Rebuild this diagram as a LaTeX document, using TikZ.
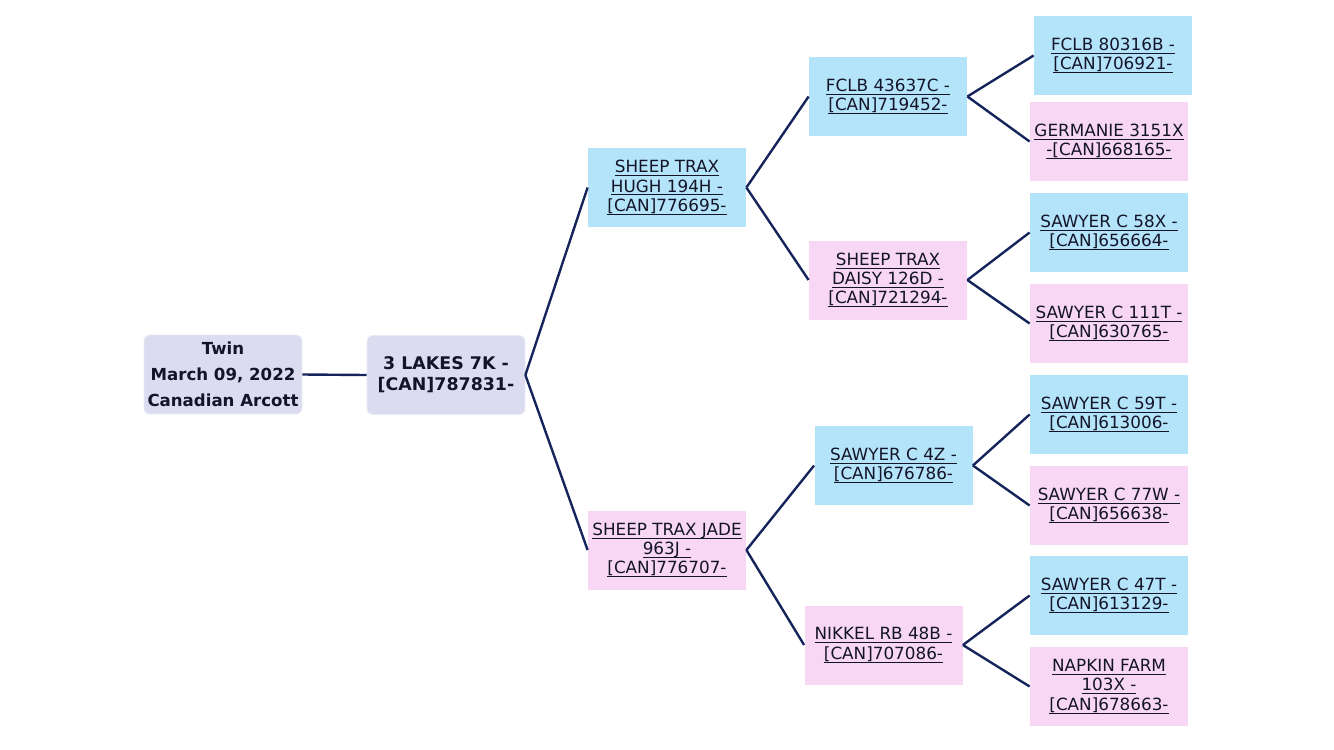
\documentclass[tikz,border=0pt]{standalone}
\usepackage{fontspec}
\setmainfont{DejaVu Sans}
\definecolor{sirecol}{RGB}{180,228,250}
\definecolor{damcol}{RGB}{248,215,245}
\definecolor{basecol}{RGB}{220,220,240}
\definecolor{linecol}{RGB}{22,36,92}
\definecolor{textcol}{RGB}{20,20,40}
\newcommand{\lnk}[1]{{\setbox0\hbox{#1}\rlap{\rule[-1.7pt]{\wd0}{0.5pt}}\box0}}

\begin{document}
\begin{tikzpicture}[x=0.5pt,y=-0.5pt,
    animal/.style={minimum width=79pt, minimum height=39.5pt, inner sep=1pt,
      align=center, text=textcol, font=\fontsize{8.4}{9.6}\selectfont},
    sire/.style={animal, fill=sirecol},
    dam/.style={animal, fill=damcol},
    subject/.style={animal, fill=basecol, draw=basecol!60, rounded corners=3pt},
    link/.style={draw=linecol, line width=1.2pt}]
  \useasboundingbox (0,0) rectangle (1334,750);

  % the lamb and its parents
  \node[subject, font=\bfseries\fontsize{8.3}{13}\selectfont] (twin) at (223,374.5)
    {Twin\\March 09, 2022\\Canadian Arcott};
  \node[subject, font=\bfseries\fontsize{8.7}{10.5}\selectfont] (lakes) at (446,375)
    {3 LAKES 7K -\\{[CAN]787831-}};
  \node[sire] (hugh) at (667,187.5) {\lnk{SHEEP TRAX}\\\lnk{HUGH 194H -}\\\lnk{[CAN]776695-}};
  \node[dam] (jade) at (667,550) {\lnk{SHEEP TRAX JADE}\\\lnk{963J -}\\\lnk{[CAN]776707-}};

  % grandparents
  \node[sire] (fclbc) at (888,96.5) {\lnk{FCLB 43637C -}\\\lnk{[CAN]719452-}};
  \node[dam] (daisy) at (888,280) {\lnk{SHEEP TRAX}\\\lnk{DAISY 126D -}\\\lnk{[CAN]721294-}};
  \node[sire] (sawz) at (893.5,465.5) {\lnk{SAWYER C 4Z -}\\\lnk{[CAN]676786-}};
  \node[dam] (nikkel) at (883.5,645) {\lnk{NIKKEL RB 48B -}\\\lnk{[CAN]707086-}};

  % great grandparents
  \node[sire] (fclbb) at (1113,55.5) {\lnk{FCLB 80316B -}\\\lnk{[CAN]706921-}};
  \node[dam] (germ) at (1109,141.5) {\lnk{GERMANIE 3151X}\\\lnk{-[CAN]668165-}};
  \node[sire] (sawx) at (1109,232.5) {\lnk{SAWYER C 58X -}\\\lnk{[CAN]656664-}};
  \node[dam] (sawt) at (1109,323.5) {\lnk{SAWYER C 111T -}\\\lnk{[CAN]630765-}};
  \node[sire] (sawft) at (1109,414.5) {\lnk{SAWYER C 59T -}\\\lnk{[CAN]613006-}};
  \node[dam] (saww) at (1109,505.5) {\lnk{SAWYER C 77W -}\\\lnk{[CAN]656638-}};
  \node[sire] (sawst) at (1109,595.5) {\lnk{SAWYER C 47T -}\\\lnk{[CAN]613129-}};
  \node[dam] (napkin) at (1109,686.5) {\lnk{NAPKIN FARM}\\\lnk{103X -}\\\lnk{[CAN]678663-}};

  \draw[link] (twin.east) -- (lakes.west);
  \draw[link] (lakes.east) -- (hugh.west);
  \draw[link] (lakes.east) -- (jade.west);
  \draw[link] (hugh.east) -- (fclbc.west);
  \draw[link] (hugh.east) -- (daisy.west);
  \draw[link] (jade.east) -- (sawz.west);
  \draw[link] (jade.east) -- (nikkel.west);
  \draw[link] (fclbc.east) -- (fclbb.west);
  \draw[link] (fclbc.east) -- (germ.west);
  \draw[link] (daisy.east) -- (sawx.west);
  \draw[link] (daisy.east) -- (sawt.west);
  \draw[link] (sawz.east) -- (sawft.west);
  \draw[link] (sawz.east) -- (saww.west);
  \draw[link] (nikkel.east) -- (sawst.west);
  \draw[link] (nikkel.east) -- (napkin.west);
\end{tikzpicture}
\end{document}
